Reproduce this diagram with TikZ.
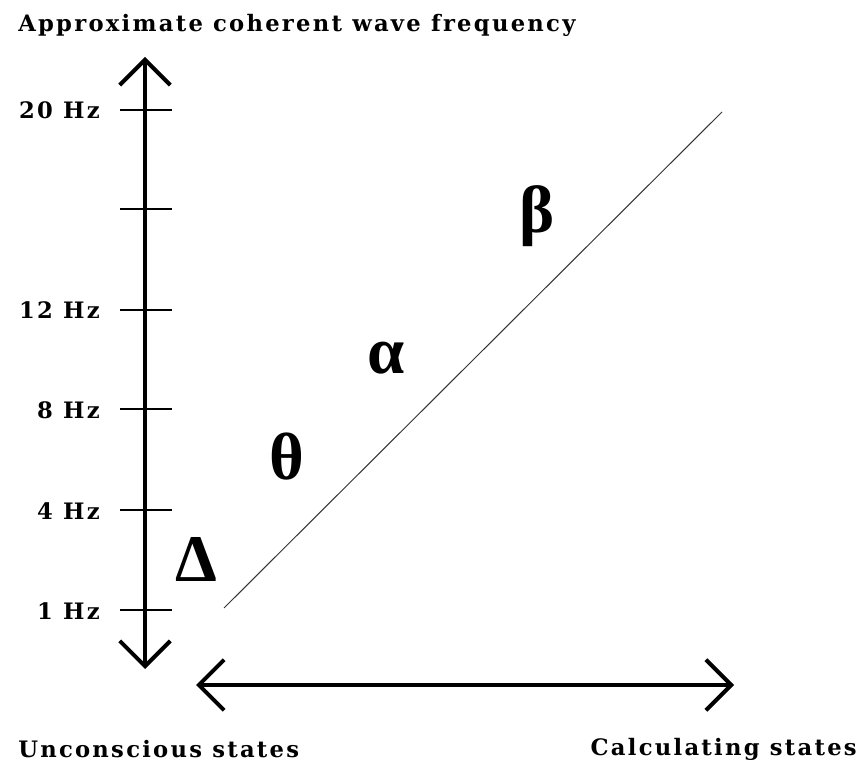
\documentclass[tikz,border=0pt]{standalone}
\usepackage{fontspec}
\setmainfont{DejaVu Serif}
\newfontfamily\labfont{DejaVu Serif}[LetterSpace=10]
\newfontfamily\greekfont{Liberation Serif}
\usetikzlibrary{arrows.meta,positioning}

\begin{document}
\begin{tikzpicture}[x=0.75pt,y=-0.75pt,
  >={Straight Barb[length=19pt,width=38pt]},
  axis/.style={line width=3pt,<->},
  tickmark/.style={line width=1.5pt},
  lab/.style={font=\labfont\bfseries\fontsize{17}{20}\selectfont,inner sep=0pt},
  band/.style={font=\greekfont\bfseries\fontsize{50}{52}\selectfont,inner sep=0pt}]
  \useasboundingbox (0,0) rectangle (865,766);
  \node[lab,anchor=west] (ytitle) at (18,25) {Approximate coherent wave frequency};
  \coordinate (ytop) at (145,57);
  \coordinate (ybot) at (145,669);
  \coordinate (xleft) at (196,685);
  \coordinate (xright) at (734,685);
  \draw[axis] (ybot) -- (ytop);
  \draw[axis] (xleft) -- (xright);
  \foreach \y in {110,209,310,409,510,610}{\draw[tickmark] (120,\y) -- (172,\y);}
  \foreach \y/\f in {110/20,310/12,410/8,511/4,611/1}{\node[lab,anchor=east] (hz\f) at (100,\y) {\f\ Hz};}
  \coordinate (lo) at (224,608);
  \coordinate (hi) at (722,112);
  \draw[black!80,line width=0.75pt] (lo) -- (hi);
  \node[band] (delta) at (196,559) {Δ};
  \node[band] (theta) at (287,457) {θ};
  \node[band] (alpha) at (386,358) {α};
  \node[band] (beta) at (537,216) {β};
  \node[lab,anchor=west] (unconscious) at (18,749) {Unconscious states};
  \node[lab,anchor=east] (calculating) at (857,749) {Calculating states};
\end{tikzpicture}
\end{document}
